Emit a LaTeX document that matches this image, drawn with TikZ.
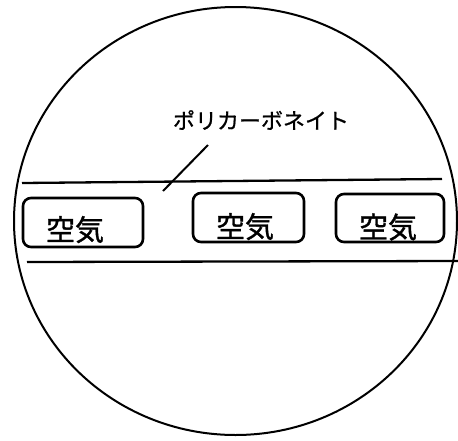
\documentclass[tikz,border=0pt]{standalone}
\usepackage{fontspec}
\newfontfamily\jp[FakeBold=1.2]{Noto Sans CJK JP}
\newfontfamily\jpl[FakeBold=0.8]{Noto Sans CJK JP}
\begin{document}
\begin{tikzpicture}[x=1pt,y=-1pt,
  outline/.style={line width=2pt},
  layer/.style={line width=2.3pt},
  airbox/.style={draw, line width=2.6pt, rounded corners=8pt, inner sep=0pt, font=\jp\fontsize{29}{29}\selectfont},
  lbl/.style={font=\jpl\fontsize{22}{22}\selectfont, inner sep=0pt}]
\useasboundingbox (0,0) rectangle (458,440);
\draw[outline] (235.5,221) ellipse [x radius=221.5, y radius=214];
\coordinate (t1) at (22,183);
\coordinate (t2) at (442,179);
\coordinate (b1) at (27,262);
\coordinate (b2) at (458,261);
\draw[layer] (t1) -- (t2);
\draw[layer] (b1) -- (b2);
\node[lbl] (pc) at (261,120) {ポリカーボネイト};
\coordinate (lt) at (208,145);
\coordinate (le) at (163,191);
\draw[line width=2pt] (lt) -- (le);
\node[airbox, minimum width=120pt, minimum height=49pt] (a1) at (83,222.5) {\raisebox{-18pt}[0pt][0pt]{\makebox[0pt]{\hspace*{-16pt}空気}}};
\node[airbox, minimum width=111pt, minimum height=49pt] (a2) at (248.5,217.5) {\raisebox{-20pt}[0pt][0pt]{\makebox[0pt]{\hspace*{-7pt}空気}}};
\node[airbox, minimum width=108pt, minimum height=48pt] (a3) at (390,218) {\raisebox{-20pt}[0pt][0pt]{\makebox[0pt]{\hspace*{-4pt}空気}}};
\end{tikzpicture}
\end{document}
